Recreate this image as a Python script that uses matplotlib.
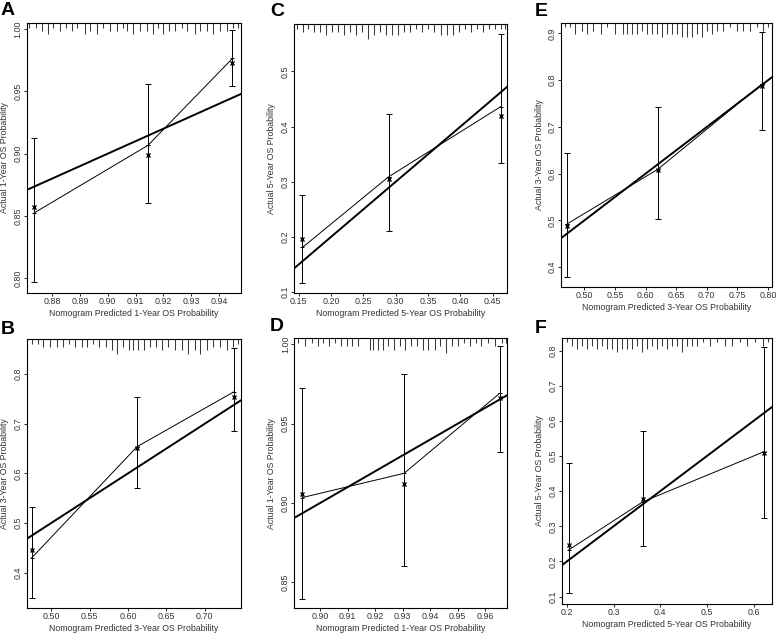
import matplotlib
matplotlib.use("Agg")
import matplotlib.pyplot as plt

plt.rcParams['font.family'] = ['Liberation Sans', 'DejaVu Sans']

# calibration points: predicted, observed (KM), bias-corrected, CI low/high
A_pred = [0.8735, 0.9145, 0.9449]
A_obs = [0.8524, 0.9067, 0.9765]
A_corr = [0.8572, 0.8990, 0.9727]
A_lo = [0.7965, 0.8604, 0.9540]
A_hi = [0.9126, 0.9560, 0.9990]

B_pred = [0.4747, 0.6120, 0.7387]
B_obs = [0.4300, 0.6540, 0.7650]
B_corr = [0.4450, 0.6520, 0.7540]
B_lo = [0.3480, 0.5710, 0.6860]
B_hi = [0.5320, 0.7540, 0.8520]

C_pred = [0.1560, 0.2890, 0.4620]
C_obs = [0.1810, 0.3090, 0.4360]
C_corr = [0.1970, 0.3050, 0.4200]
C_lo = [0.1160, 0.2100, 0.3350]
C_hi = [0.2770, 0.4230, 0.5670]

D_pred = [0.8935, 0.9305, 0.9655]
D_obs = [0.9034, 0.9187, 0.9695]
D_corr = [0.9057, 0.9122, 0.9664]
D_lo = [0.8395, 0.8605, 0.9324]
D_hi = [0.9723, 0.9810, 0.9990]

E_pred = [0.4720, 0.6200, 0.7900]
E_obs = [0.4926, 0.6094, 0.7917]
E_corr = [0.4880, 0.6080, 0.7880]
E_lo = [0.3780, 0.5026, 0.6927]
E_hi = [0.6436, 0.7430, 0.9030]

F_pred = [0.2040, 0.3630, 0.6230]
F_obs = [0.2328, 0.3700, 0.5127]
F_corr = [0.2470, 0.3780, 0.5080]
F_lo = [0.1095, 0.2430, 0.3250]
F_hi = [0.4810, 0.5715, 0.8097]

# rug of predicted values at the top (position, relative frequency 1-4)
A_rug = [0.8718, 0.8742, 0.8762, 0.8786, 0.8804, 0.8828, 0.8850, 0.8870, 0.8890, 0.8918,
         0.8936, 0.8960, 0.8984, 0.9008, 0.9032, 0.9054, 0.9068, 0.9092, 0.9116, 0.9140,
         0.9162, 0.9182, 0.9200, 0.9222, 0.9242, 0.9266, 0.9284, 0.9314, 0.9332, 0.9356,
         0.9380, 0.9404, 0.9428, 0.9452, 0.9470]
A_rugn = [1, 1, 2, 3, 1, 2, 1, 2, 1, 3, 2, 3, 1, 2, 2, 1, 2, 3, 2, 2,
          3, 1, 3, 2, 2, 1, 2, 3, 2, 2, 3, 2, 2, 1, 1]
B_rug = [0.4745, 0.4832, 0.4897, 0.4984, 0.5071, 0.5158, 0.5236, 0.5310, 0.5397, 0.5471,
         0.5549, 0.5627, 0.5714, 0.5788, 0.5862, 0.5940, 0.6019, 0.6071, 0.6136, 0.6210,
         0.6288, 0.6366, 0.6440, 0.6527, 0.6614, 0.6701, 0.6788, 0.6875, 0.6940, 0.7027,
         0.7114, 0.7201, 0.7288, 0.7374, 0.7440]
B_rugn = [1, 1, 2, 2, 2, 2, 1, 2, 2, 2, 1, 2, 2, 3, 4, 2, 3, 3, 3, 3,
          2, 2, 3, 2, 3, 3, 4, 3, 4, 3, 2, 2, 3, 2, 1]
C_rug = [0.1471, 0.1564, 0.1652, 0.1745, 0.1837, 0.1930, 0.2023, 0.2116, 0.2209, 0.2302,
         0.2394, 0.2487, 0.2570, 0.2663, 0.2755, 0.2848, 0.2941, 0.3034, 0.3127, 0.3220,
         0.3312, 0.3405, 0.3498, 0.3591, 0.3694, 0.3787, 0.3880, 0.3973, 0.4065, 0.4158,
         0.4251, 0.4344, 0.4437, 0.4530, 0.4622, 0.4695]
C_rugn = [1, 2, 1, 2, 2, 3, 2, 2, 3, 2, 3, 2, 4, 3, 2, 3, 3, 3, 2, 2,
          1, 2, 1, 2, 3, 3, 3, 2, 1, 2, 1, 2, 1, 1, 1, 1]
D_rug = [0.8921, 0.8945, 0.8969, 0.8991, 0.9012, 0.9032, 0.9054, 0.9076, 0.9096, 0.9114,
         0.9139, 0.9181, 0.9193, 0.9209, 0.9230, 0.9248, 0.9269, 0.9290, 0.9308, 0.9330,
         0.9351, 0.9375, 0.9393, 0.9417, 0.9435, 0.9456, 0.9478, 0.9502, 0.9524, 0.9544,
         0.9565, 0.9586, 0.9611, 0.9635, 0.9659, 0.9677]
D_rugn = [1, 2, 1, 2, 1, 2, 1, 2, 2, 2, 2, 3, 3, 3, 3, 2, 3, 2, 3, 2,
          2, 3, 3, 3, 2, 4, 2, 2, 1, 2, 1, 2, 1, 2, 1, 1]
E_rug = [0.4685, 0.4767, 0.4849, 0.4958, 0.5050, 0.5148, 0.5268, 0.5366, 0.5502, 0.5638,
         0.5703, 0.5774, 0.5856, 0.5937, 0.6019, 0.6101, 0.6182, 0.6264, 0.6346, 0.6427,
         0.6509, 0.6591, 0.6672, 0.6754, 0.6836, 0.6917, 0.6999, 0.7080, 0.7162, 0.7271,
         0.7380, 0.7489, 0.7598, 0.7707, 0.7815, 0.7924, 0.8006]
E_rugn = [1, 1, 3, 2, 3, 2, 3, 1, 3, 3, 3, 3, 3, 2, 3, 3, 3, 4, 3, 3,
          3, 4, 4, 4, 3, 4, 2, 3, 2, 2, 1, 2, 2, 2, 1, 2, 1]
F_rug = [0.1997, 0.2104, 0.2211, 0.2319, 0.2426, 0.2533, 0.2640, 0.2747, 0.2854, 0.2961,
         0.3069, 0.3176, 0.3283, 0.3390, 0.3497, 0.3604, 0.3711, 0.3819, 0.3926, 0.4033,
         0.4140, 0.4247, 0.4354, 0.4461, 0.4569, 0.4676, 0.4783, 0.4926, 0.5069, 0.5211,
         0.5390, 0.5533, 0.5711, 0.5854, 0.6033, 0.6211, 0.6319]
F_rugn = [1, 2, 3, 2, 3, 2, 3, 2, 3, 3, 4, 3, 3, 3, 2, 4, 3, 2, 3, 2,
          3, 2, 2, 4, 2, 2, 2, 1, 2, 1, 2, 2, 1, 2, 1, 2, 1]

# axis ticks
A_xt = [0.88, 0.89, 0.90, 0.91, 0.92, 0.93, 0.94]
A_yt = [0.80, 0.85, 0.90, 0.95, 1.00]
B_xt = [0.50, 0.55, 0.60, 0.65, 0.70]
B_yt = [0.4, 0.5, 0.6, 0.7, 0.8]
C_xt = [0.15, 0.20, 0.25, 0.30, 0.35, 0.40, 0.45]
C_yt = [0.1, 0.2, 0.3, 0.4, 0.5]
D_xt = [0.90, 0.91, 0.92, 0.93, 0.94, 0.95, 0.96]
D_yt = [0.85, 0.90, 0.95, 1.00]
E_xt = [0.50, 0.55, 0.60, 0.65, 0.70, 0.75, 0.80]
E_yt = [0.4, 0.5, 0.6, 0.7, 0.8, 0.9]
F_xt = [0.2, 0.3, 0.4, 0.5, 0.6]
F_yt = [0.1, 0.2, 0.3, 0.4, 0.5, 0.6, 0.7, 0.8]

W, H = 778, 635
fig = plt.figure(figsize=(W / 100, H / 100), dpi=100)


def px_box(l, t, r, b):
    return [l / W, 1 - b / H, (r - l) / W, (b - t) / H]


def panel(box, letter, lpos, pred, obs, corr, lo, hi, rug, rugn, xlim, ylim,
          xt, yt, xfmt, yfmt, year):
    ax = fig.add_axes(px_box(*box))
    ax.set_xlim(xlim)
    ax.set_ylim(ylim)
    # ideal line
    ax.plot(xlim, xlim, color='black', lw=1.4, zorder=2)
    ax.plot(pred, obs, color='black', lw=0.7, marker='+', ms=3, mew=0.7, zorder=3)
    yerr = [[o - l for o, l in zip(obs, lo)], [h - o for o, h in zip(obs, hi)]]
    ax.errorbar(pred, obs, yerr=yerr, fmt='none', ecolor='black', elinewidth=0.7,
                capsize=2.2, capthick=0.7, zorder=3)
    ax.plot(pred, corr, linestyle='none', marker='x', color='black', ms=2.8, mew=1.0, zorder=4)
    ax.vlines(rug, [1 - 0.006 - 0.012 * n for n in rugn], 1, color='#3a3a3a', lw=0.75,
              transform=ax.get_xaxis_transform(), zorder=1)
    ax.set_xticks(xt)
    ax.set_xticklabels([xfmt % v for v in xt])
    ax.set_yticks(yt)
    ax.set_yticklabels([yfmt % v for v in yt], rotation=90, va='center')
    ax.tick_params(direction='out', length=2, width=0.6, labelsize=6.4,
                   labelcolor='#333333', pad=1)
    for s in ax.spines.values():
        s.set_linewidth(0.8)
    ax.set_xlabel('Nomogram Predicted %d-Year OS Probability' % year, fontsize=6.3,
                  color='#333333')
    ax.set_ylabel('Actual %d-Year OS Probability' % year, fontsize=6.3,
                  color='#333333')
    wpx = box[2] - box[0]
    hpx = box[3] - box[1]
    ax.xaxis.set_label_coords(0.5, -15.5 / hpx)
    ax.yaxis.set_label_coords(-17.5 / wpx, 0.5)
    fig.text(lpos[0] / W, 1 - lpos[1] / H, letter, fontsize=14, fontweight='bold',
             ha='left', va='top')


panel((26.7, 23, 241.3, 293), 'A', (1, 2), A_pred, A_obs, A_corr, A_lo, A_hi,
      A_rug, A_rugn, (0.8708, 0.9481), (0.788, 1.005), A_xt, A_yt, '%.2f', '%.2f', 1)
panel((294, 24, 507, 293.3), 'C', (270, 3), C_pred, C_obs, C_corr, C_lo, C_hi,
      C_rug, C_rugn, (0.143, 0.472), (0.098, 0.586), C_xt, C_yt, '%.2f', '%.1f', 5)
panel((561, 22.7, 771.7, 287.3), 'E', (535, 3), E_pred, E_obs, E_corr, E_lo, E_hi,
      E_rug, E_rugn, (0.462, 0.806), (0.357, 0.923), E_xt, E_yt, '%.2f', '%.1f', 3)
panel((26.7, 339, 240.7, 608.3), 'B', (1, 321), B_pred, B_obs, B_corr, B_lo, B_hi,
      B_rug, B_rugn, (0.468, 0.747), (0.328, 0.871), B_xt, B_yt, '%.2f', '%.1f', 3)
panel((294, 338.3, 507.3, 608.3), 'D', (270, 318), D_pred, D_obs, D_corr, D_lo, D_hi,
      D_rug, D_rugn, (0.8905, 0.968), (0.8336, 1.0038), D_xt, D_yt, '%.2f', '%.2f', 1)
panel((561.7, 337.7, 771.7, 604.3), 'F', (535, 320), F_pred, F_obs, F_corr, F_lo, F_hi,
      F_rug, F_rugn, (0.189, 0.639), (0.078, 0.837), F_xt, F_yt, '%.1f', '%.1f', 5)

fig.savefig('out.png', dpi=100)
